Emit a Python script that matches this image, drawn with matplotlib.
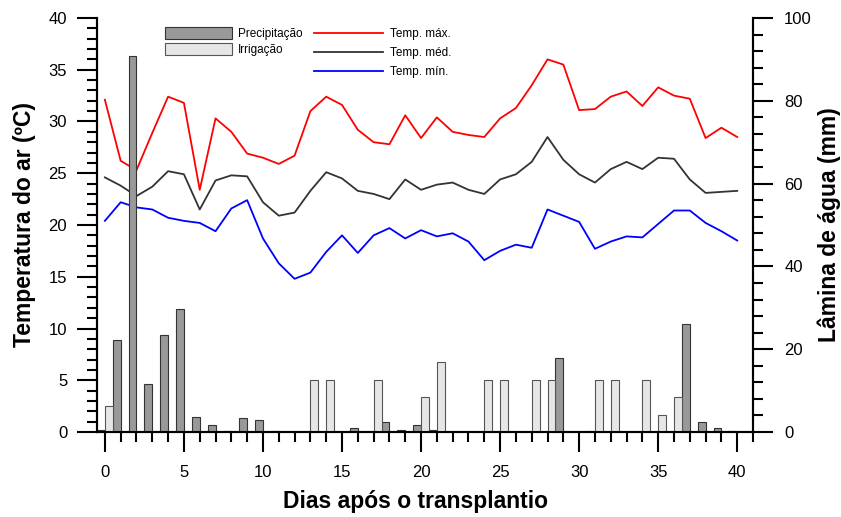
import numpy as np
import matplotlib
matplotlib.use('Agg')
import matplotlib.pyplot as plt
from matplotlib.patches import Patch
from matplotlib.lines import Line2D

plt.rcParams['font.family'] = ['Liberation Sans', 'DejaVu Sans']

days = np.arange(0, 41)

# temperatures (ºC)
t_max = [32.1, 26.2, 25.3, 28.9, 32.4, 31.8, 23.4, 30.3, 29.0, 26.9,
         26.5, 25.9, 26.7, 31.0, 32.4, 31.6, 29.2, 28.0, 27.8, 30.6,
         28.4, 30.4, 29.0, 28.7, 28.5, 30.3, 31.3, 33.5, 36.0, 35.5,
         31.1, 31.2, 32.4, 32.9, 31.5, 33.3, 32.5, 32.2, 28.4, 29.4,
         28.5]
t_med = [24.6, 23.8, 22.8, 23.7, 25.2, 24.9, 21.5, 24.3, 24.8, 24.7,
         22.2, 20.9, 21.2, 23.3, 25.1, 24.5, 23.3, 23.0, 22.5, 24.4,
         23.4, 23.9, 24.1, 23.4, 23.0, 24.4, 24.9, 26.1, 28.5, 26.3,
         24.9, 24.1, 25.4, 26.1, 25.4, 26.5, 26.4, 24.4, 23.1, 23.2,
         23.3]
t_min = [20.4, 22.2, 21.7, 21.5, 20.7, 20.4, 20.2, 19.4, 21.6, 22.4,
         18.7, 16.3, 14.8, 15.4, 17.4, 19.0, 17.3, 19.0, 19.7, 18.7,
         19.5, 18.9, 19.2, 18.4, 16.6, 17.5, 18.1, 17.8, 21.5, 20.9,
         20.3, 17.7, 18.4, 18.9, 18.8, 20.1, 21.4, 21.4, 20.2, 19.4,
         18.5]

# water depth (mm)
precip = np.array([0.5, 22.3, 90.8, 11.5, 23.5, 29.7, 3.7, 1.8, 0.3, 3.4,
                   3.0, 0.2, 0, 0, 0, 0, 0.9, 0, 2.4, 0.5,
                   1.8, 0.5, 0, 0, 0, 0, 0, 0, 0, 17.9,
                   0, 0.3, 0, 0, 0, 0, 0, 26.2, 2.3, 0.9,
                   0.3])
irrig = np.array([6.4, 0, 0, 0, 0, 0, 0, 0, 0, 0,
                  0, 0, 0, 12.6, 12.6, 0, 0, 12.6, 0, 0,
                  8.4, 16.9, 0, 0, 12.6, 12.6, 0, 12.6, 12.6, 0,
                  0, 12.6, 12.6, 0, 12.6, 4.2, 8.5, 0, 0, 0,
                  0])

c_prec = '#999999'
c_irr = '#e6e6e6'

fig = plt.figure(figsize=(8.41, 5.17), dpi=100)
ax = fig.add_axes([0.1153, 0.1644, 0.7801, 0.8008])
ax2 = ax.twinx()

ax.plot(days, t_max, color='#ff0000', lw=1.3)
ax.plot(days, t_med, color='#333333', lw=1.3)
ax.plot(days, t_min, color='#0000ff', lw=1.3)

mp = precip > 0
mi = irrig > 0
ax2.bar(days[mp], precip[mp], width=-0.5, align='edge', color=c_prec,
        edgecolor='#333333', linewidth=0.8)
ax2.bar(days[mi], irrig[mi], width=0.5, align='edge', color=c_irr,
        edgecolor='#555555', linewidth=0.8)

ax.set_xlim(-0.5, 41)
ax.set_ylim(0, 40)
ax2.set_ylim(0, 100)

ax.set_xticks(np.arange(0, 41, 5))
ax.set_xticks(np.arange(0, 42, 1), minor=True)
ax.set_yticks(np.arange(0, 41, 5))
ax.set_yticks(np.arange(0, 41, 1), minor=True)
ax2.set_yticks(np.arange(0, 101, 20))
ax2.set_yticks(np.arange(0, 101, 4), minor=True)

for a in (ax, ax2):
    a.spines['top'].set_visible(False)
    for s in a.spines.values():
        s.set_linewidth(1.5)
    a.tick_params(which='major', direction='out', length=14.4, width=1.5,
                  labelsize=12)
    a.tick_params(which='minor', direction='out', length=7.2, width=1.5)
ax.tick_params(axis='x', pad=9)
ax.tick_params(axis='y', pad=7)
ax2.tick_params(axis='y', pad=8)

ax.set_xlabel('Dias após o transplantio', fontsize=16.5, fontweight='bold',
              va='center')
ax.set_ylabel('Temperatura do ar (ºC)', fontsize=16.5, fontweight='bold',
              va='center')
ax2.set_ylabel('Lâmina de água (mm)', fontsize=16.5, fontweight='bold',
               va='center')
ax.xaxis.set_label_coords(0.485, -0.169)
ax.yaxis.set_label_coords(-0.111, 0.5)
ax2.yaxis.set_label_coords(1.116, 0.5)

h1 = [Patch(facecolor=c_prec, edgecolor='#333333', lw=0.8),
      Patch(facecolor=c_irr, edgecolor='#555555', lw=0.8)]
leg1 = ax2.legend(h1, ['Precipitação', 'Irrigação'], loc='upper left',
                  bbox_to_anchor=(0.1958, 0.9472), bbox_transform=fig.transFigure,
                  frameon=False, fontsize=8.5, handlelength=5.73, handleheight=1.13,
                  handletextpad=0.48, labelspacing=0.28, borderpad=0,
                  borderaxespad=0)
ax2.add_artist(leg1)

h2 = [Line2D([], [], color='#ff0000', lw=1.3),
      Line2D([], [], color='#333333', lw=1.3),
      Line2D([], [], color='#0000ff', lw=1.3)]
ax2.legend(h2, ['Temp. máx.', 'Temp. méd.', 'Temp. mín.'], loc='upper left',
           bbox_to_anchor=(0.3737, 0.9453), bbox_transform=fig.transFigure,
           frameon=False, fontsize=8.5, handlelength=5.8, handletextpad=0.62,
           labelspacing=0.6, borderpad=0, borderaxespad=0)

fig.savefig('out.png', dpi=100)
